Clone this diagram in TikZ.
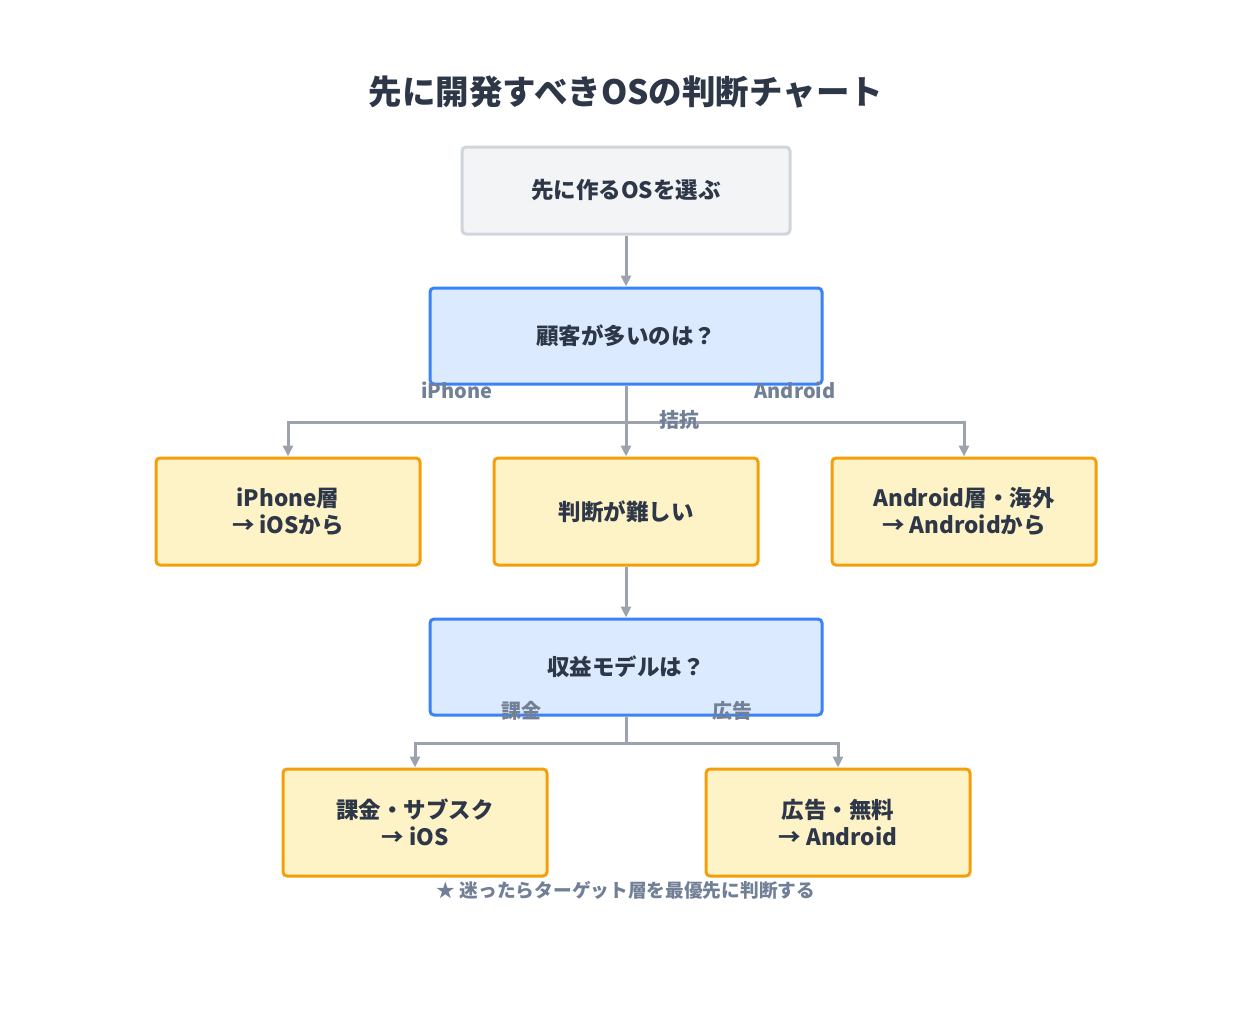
\documentclass[tikz,border=0pt]{standalone}
\usepackage{fontspec}
\setmainfont{Noto Sans CJK JP}
\usepackage{tikz}
\usetikzlibrary{arrows.meta, positioning}
\definecolor{inkDark}{HTML}{2D3748}
\definecolor{inkGray}{HTML}{718096}
\definecolor{lineGray}{HTML}{9CA3AF}
\definecolor{startFill}{HTML}{F3F4F6}
\definecolor{startLine}{HTML}{D1D5DB}
\definecolor{askFill}{HTML}{DBEAFE}
\definecolor{askLine}{HTML}{3B82F6}
\definecolor{endFill}{HTML}{FEF3C7}
\definecolor{endLine}{HTML}{F59E0B}

\begin{document}
\begin{tikzpicture}[
  x=1pt, y=-1pt,
  every node/.style={font=\bfseries\fontsize{22.5}{27}\selectfont, text=inkDark},
  startbox/.style={draw=startLine, fill=startFill, rounded corners=4pt,
                   minimum width=328pt, minimum height=87pt, line width=3pt},
  askbox/.style={draw=askLine, fill=askFill, rounded corners=4pt,
                 minimum width=392pt, minimum height=96pt, line width=3pt},
  endbox/.style={draw=endLine, fill=endFill, rounded corners=4pt, align=center,
                 minimum width=264pt, minimum height=107pt, line width=3pt},
  lbl/.style={font=\bfseries\fontsize{20}{24}\selectfont, text=inkGray},
  arr/.style={draw=lineGray, line width=3pt,
              -{Triangle[length=11pt, width=10pt]}},
  ln/.style={draw=lineGray, line width=3pt},
]
\useasboundingbox (0,0) rectangle (1252,1014);

% Title
\node (title) at (626,92) {\fontsize{33.5}{38}\selectfont 先に開発すべきOSの判断チャート};

% Start and first question
\node[startbox] (start) at (626,190.5) {先に作るOSを選ぶ};
\node[askbox] (users) at (626,336) {顧客が多いのは？};

% Row 1 answers
\node[endbox] (iphone) at (288,511.5) {iPhone層\\→ iOSから};
\node[endbox] (hard) at (626,511.5) {判断が難しい};
\node[endbox] (android) at (964,511.5) {Android層・海外\\→ Androidから};

% Second question
\node[askbox] (revenue) at (626,667) {収益モデルは？};

% Row 2 answers
\node[endbox] (paid) at (415,822.5) {課金・サブスク\\→ iOS};
\node[endbox] (ads) at (838,822.5) {広告・無料\\→ Android};

% Connectors
\coordinate (split1) at (626,422);
\coordinate (split2) at (626,743);
\draw[arr] (start) -- (users);
\draw[arr] (users.south) -- (hard.north);
\draw[arr] (split1) -| (iphone.north);
\draw[arr] (split1) -| (android.north);
\draw[arr] (hard) -- (revenue);
\draw[ln] (revenue.south) -- (split2);
\draw[arr] (split2) -| (paid.north);
\draw[arr] (split2) -| (ads.north);

% Branch labels
\node[lbl] (l-iphone) at (457,390) {iPhone};
\node[lbl] (l-android) at (795,390) {Android};
\node[lbl] (l-even) at (679,420) {拮抗};
\node[lbl] (l-paid) at (521,711) {課金};
\node[lbl] (l-ads) at (732,711) {広告};

% Note
\node[text=inkGray, font=\bfseries\fontsize{18.7}{22}\selectfont] (note) at (626,890)
  {★ 迷ったらターゲット層を最優先に判断する};
\end{tikzpicture}
\end{document}
